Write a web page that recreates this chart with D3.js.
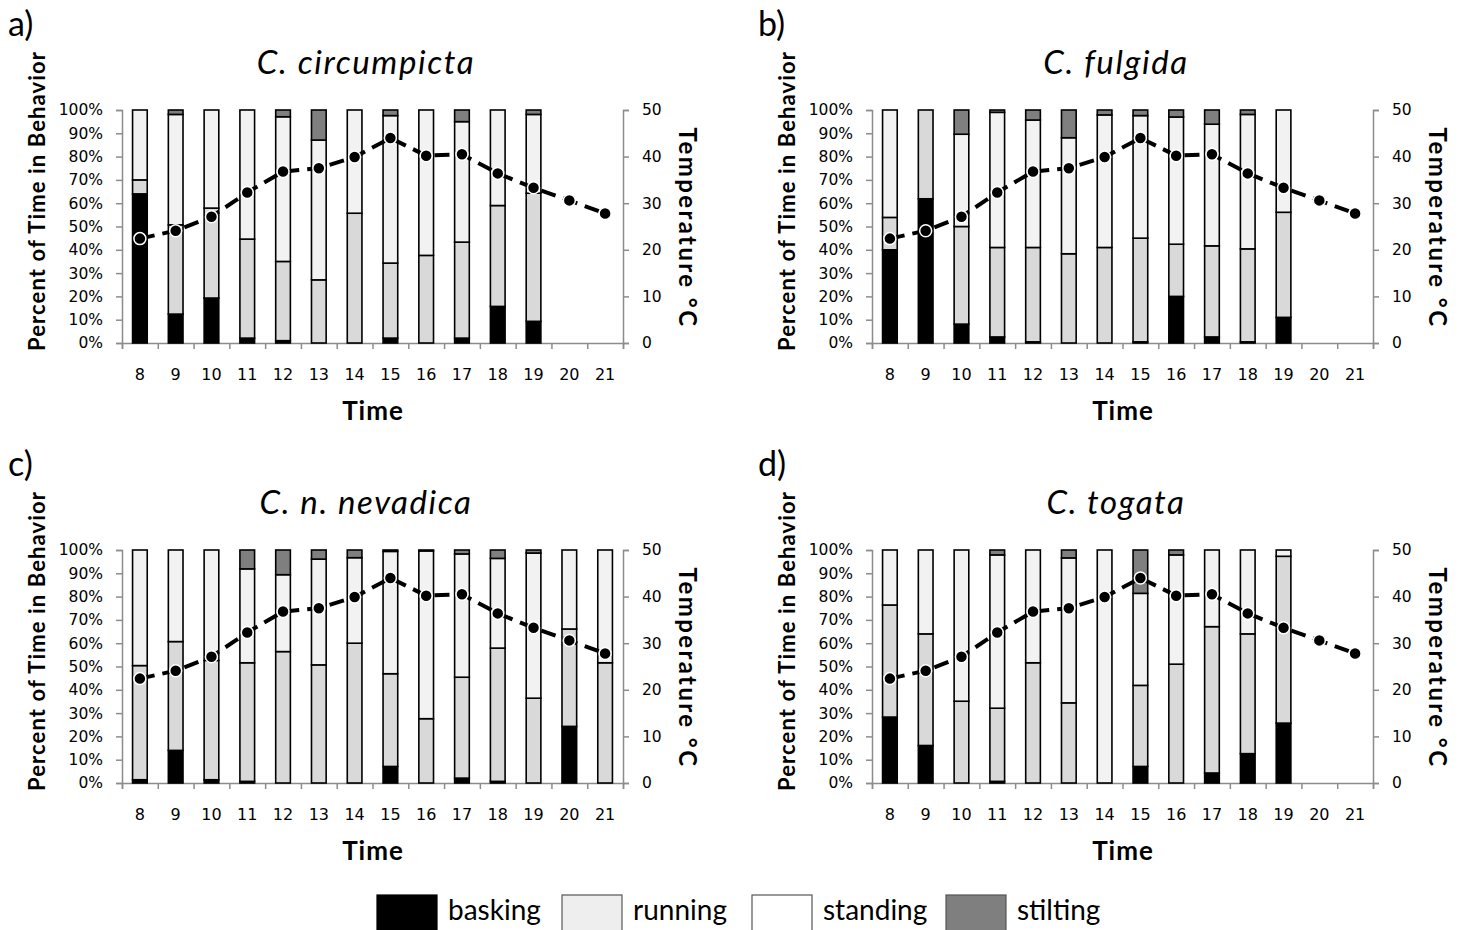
<!DOCTYPE html>
<html>
<head>
<meta charset="utf-8">
<script src="https://cdn.jsdelivr.net/npm/d3@7"></script>
<style>
  body { margin: 0; background: #fff; }
  svg text { fill: #000; }
</style>
</head>
<body>
<div id="chart"></div>
<script>
// hours of the day (x categories)
const hours = [8, 9, 10, 11, 12, 13, 14, 15, 16, 17, 18, 19, 20, 21];
// air temperature, same in every panel (deg C)
const temperature = [22.4, 24.1, 27.1, 32.3, 36.8, 37.5, 39.9, 44.0, 40.2, 40.5, 36.4, 33.3, 30.6, 27.8];

const behaviors = ["basking", "running", "standing", "stilting"];
const pctTicks = [0, 10, 20, 30, 40, 50, 60, 70, 80, 90, 100];
const tempTicks = [0, 10, 20, 30, 40, 50];

// a) C. circumpicta
const circBasking  = [64, 12.4, 19.3, 2.1, 1, 0, 0, 2.1, 0, 2.1, 15.7, 9.3, 0, 0];
const circRunning  = [6, 38.3, 38.6, 42.5, 34, 27.1, 55.7, 32.2, 37.6, 41.2, 43.3, 55, 0, 0];
const circStanding = [30, 47.4, 42.1, 55.4, 62.1, 60, 44.3, 63.3, 62.4, 51.7, 41, 33.8, 0, 0];
const circStilting = [0, 1.9, 0, 0, 2.9, 12.9, 0, 2.4, 0, 5, 0, 1.9, 0, 0];

// b) C. fulgida
const fulgBasking  = [40, 61.9, 8.1, 2.6, 0.5, 0, 0, 0.5, 20, 2.6, 0.5, 11, 0, 0];
const fulgRunning  = [13.9, 38.1, 41.9, 38.4, 40.5, 38.3, 41, 44.5, 22.4, 39.1, 39.9, 45.1, 0, 0];
const fulgStanding = [46.1, 0, 39.6, 58, 54.7, 49.8, 56.9, 52.6, 54.6, 52.2, 57.7, 43.9, 0, 0];
const fulgStilting = [0, 0, 10.4, 1, 4.3, 11.9, 2.1, 2.4, 3, 6.1, 1.9, 0, 0, 0];

// c) C. n. nevadica
const nevBasking  = [1.4, 14, 1.4, 0.7, 0, 0, 0, 7.1, 0, 2.1, 0.7, 0, 24.3, 0];
const nevRunning  = [49, 46.7, 51.2, 50.9, 56.4, 50.7, 60, 39.8, 27.6, 43.3, 57.2, 36.4, 41.8, 51.6];
const nevStanding = [49.6, 39.3, 47.4, 40.3, 33, 45.4, 36.7, 52.5, 72, 52.9, 38.5, 62.3, 33.9, 48.4];
const nevStilting = [0, 0, 0, 8.1, 10.6, 3.9, 3.3, 0.6, 0.4, 1.7, 3.6, 1.3, 0, 0];

// d) C. togata
const togBasking  = [28.3, 16.1, 0, 0.7, 0, 0, 0, 7.1, 0, 4.3, 12.6, 25.7, 0, 0];
const togRunning  = [48.1, 47.9, 35.1, 31.4, 51.6, 34.4, 0, 34.8, 51, 62.8, 51.4, 71.6, 0, 0];
const togStanding = [23.6, 36, 64.9, 65.8, 48.4, 62.2, 100, 39.5, 46.9, 32.9, 36, 2.7, 0, 0];
const togStilting = [0, 0, 0, 2.1, 0, 3.4, 0, 18.6, 2.1, 0, 0, 0, 0, 0];

const W = 1468, H = 930;
const svg = d3.select("#chart").append("svg")
  .attr("width", W).attr("height", H);

// fills used in the bars, and the (slightly different) swatches in the legend
const barColor = d3.scaleOrdinal().domain(behaviors)
  .range(["#000000", "#d9d9d9", "#f2f2f2", "#7f7f7f"]);
const legendColor = d3.scaleOrdinal().domain(behaviors)
  .range(["#000000", "#eeeeee", "#ffffff", "#7f7f7f"]);

const sansText = "Lato, 'Open Sans', sans-serif";
const tickFont = "'DejaVu Sans', Verdana, sans-serif";

function styleAxis(a, size) {
  a.selectAll(".domain, line").attr("stroke", "#8c8c8c").attr("stroke-width", 1.5);
  a.selectAll("text").style("font-family", tickFont).style("font-size", size)
    .attr("fill", "#1a1a1a");
}

function panel(ox, oy, letter, title, series) {
  let g = svg.append("g").attr("transform", "translate(" + ox + "," + oy + ")");

  let left = 122, right = 623, top = 110, bottom = 343;

  let x = d3.scaleBand().domain(hours).range([left, right])
    .paddingInner(0.59).paddingOuter(0.295);
  let xEdge = d3.scaleLinear().domain([0, hours.length]).range([left, right]);
  let y = d3.scaleLinear().domain([0, 100]).range([bottom, top]);
  let yT = d3.scaleLinear().domain([0, 50]).range([bottom, top]);

  // rows for the stack
  let rows = hours.map(function(h, i) {
    let r = {hour: h};
    behaviors.forEach(function(b, j) { r[b] = series[j][i]; });
    return r;
  });
  let stacked = d3.stack().keys(behaviors)(rows);

  // axes
  let axL = g.append("g").attr("transform", "translate(" + left + ",0)")
    .call(d3.axisLeft(y).tickValues(pctTicks).tickSize(6).tickPadding(13)
      .tickFormat(function(d) { return d + "%"; }));
  let axR = g.append("g").attr("transform", "translate(" + right + ",0)")
    .call(d3.axisRight(yT).tickValues(tempTicks).tickSize(6).tickPadding(13));
  let axB = g.append("g").attr("transform", "translate(0," + bottom + ")")
    .call(d3.axisBottom(xEdge).ticks(hours.length).tickSize(6).tickFormat(""));
  let axLab = g.append("g").attr("transform", "translate(0," + bottom + ")")
    .call(d3.axisBottom(x).tickSize(0).tickPadding(26));
  axLab.select(".domain").remove();

  styleAxis(axL, "15.5px");
  styleAxis(axR, "15.5px");
  styleAxis(axB, "16px");
  styleAxis(axLab, "16px");

  // stacked bars
  g.append("g").selectAll("g")
    .data(stacked).enter().append("g")
      .attr("fill", function(d) { return barColor(d.key); })
    .selectAll("rect")
    .data(function(d) { return d.filter(function(s) { return s[1] - s[0] > 0; }); })
    .enter().append("rect")
      .attr("x", function(d) { return x(d.data.hour); })
      .attr("width", x.bandwidth())
      .attr("y", function(d) { return y(d[1]); })
      .attr("height", function(d) { return y(d[0]) - y(d[1]); })
      .attr("stroke", "#000")
      .attr("stroke-width", 1.6);

  // temperature line
  let cx = function(i) { return x(hours[i]) + x.bandwidth() / 2; };
  g.append("path")
    .datum(temperature)
    .attr("d", d3.line().x(function(d, i) { return cx(i); }).y(function(d) { return yT(d); }))
    .attr("fill", "none")
    .attr("stroke", "#000")
    .attr("stroke-width", 4)
    .attr("stroke-dasharray", "15,8");
  g.append("g").selectAll("circle")
    .data(temperature).enter().append("circle")
      .attr("cx", function(d, i) { return cx(i); })
      .attr("cy", function(d) { return yT(d); })
      .attr("r", 6)
      .attr("fill", "#000")
      .attr("stroke", "#fff")
      .attr("stroke-width", 1.5);

  // texts
  g.append("text").attr("x", 8).attr("y", 36).text(letter)
    .style("font-family", sansText).style("font-size", "34px");
  g.append("text").attr("x", 366).attr("y", 74)
    .attr("text-anchor", "middle").text(title)
    .style("font-family", sansText).style("font-size", "33px").style("font-style", "italic")
    .style("letter-spacing", "1.6px");
  g.append("text").attr("x", 373).attr("y", 420)
    .attr("text-anchor", "middle").text("Time")
    .style("font-family", sansText).style("font-size", "26px").style("font-weight", "bold")
    .style("letter-spacing", "1px");
  g.append("text")
    .attr("transform", "translate(45,201) rotate(-90)")
    .attr("text-anchor", "middle").text("Percent of Time in Behavior")
    .style("font-family", sansText).style("font-size", "22px").style("font-weight", "bold")
    .style("letter-spacing", "1.1px");
  g.append("text")
    .attr("transform", "translate(679,228) rotate(90)")
    .attr("text-anchor", "middle").text("Temperature \u00b0C")
    .style("font-family", sansText).style("font-size", "24px").style("font-weight", "bold")
    .style("letter-spacing", "2.4px");
}

panel(0, 0, "a)", "C. circumpicta", [circBasking, circRunning, circStanding, circStilting]);
panel(750, 0, "b)", "C. fulgida", [fulgBasking, fulgRunning, fulgStanding, fulgStilting]);
panel(0, 440, "c)", "C. n. nevadica", [nevBasking, nevRunning, nevStanding, nevStilting]);
panel(750, 440, "d)", "C. togata", [togBasking, togRunning, togStanding, togStilting]);

// legend
let legendX = [377, 562, 752, 946];
let legend = svg.append("g").selectAll("g")
  .data(behaviors).enter().append("g")
    .attr("transform", function(d, i) { return "translate(" + legendX[i] + ",895)"; });
legend.append("rect")
  .attr("width", 60).attr("height", 40)
  .attr("fill", function(d) { return legendColor(d); })
  .attr("stroke", function(d) { return d === "basking" ? "#000" : "#555"; })
  .attr("stroke-width", 1.2);
legend.append("text")
  .attr("x", 71).attr("y", 25)
  .text(function(d) { return d; })
  .style("font-family", sansText).style("font-size", "28px");
</script>
</body>
</html>
